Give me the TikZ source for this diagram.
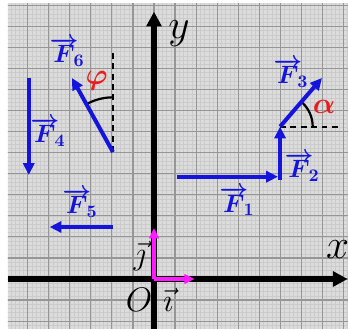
\RequirePackage{fix-cm}
\documentclass[tikz,border=0pt]{standalone}
\usetikzlibrary{arrows.meta}
\definecolor{paper}{HTML}{DCDCDC}
\definecolor{minorline}{HTML}{CBCBCB}
\definecolor{majorline}{HTML}{969696}
\definecolor{forceblue}{HTML}{1414DC}
\definecolor{anglered}{HTML}{E61E1E}
\definecolor{unitpink}{HTML}{FF1AFF}

\begin{document}
\begin{tikzpicture}[
    x=5mm, y=5mm,
    line join=round,
    force/.style={forceblue, line width=2.7pt, -{Triangle[length=8pt,width=7.5pt]}},
    axis/.style={black, line width=3.4pt, -{Triangle[length=10pt,width=10pt]}},
    unitvec/.style={unitpink, line width=2.4pt, -{Triangle[length=7pt,width=6.5pt]}},
    guide/.style={black, line width=1.3pt, dash pattern=on 4pt off 3pt},
    anglearc/.style={black, line width=1.5pt},
    flabel/.style={forceblue, inner sep=0pt, font=\fontsize{17}{19}\selectfont\boldmath},
    alabel/.style={anglered, inner sep=0pt, font=\fontsize{20}{22}\selectfont\boldmath},
    axlabel/.style={black, inner sep=0pt, font=\fontsize{28}{30}\selectfont}
]

    \useasboundingbox (-7.316,-2.375) rectangle (9.216,13.254);

    % Squared paper
    \begin{scope}
        \clip (-6.94,-2.33) rectangle (9.22,13.11);
        \fill[paper] (-7,-3) rectangle (10,14);
        \draw[minorline, line width=0.3pt, step=0.2] (-7,-3) grid (10,14);
        \draw[majorline, line width=0.8pt, step=1] (-7,-3) grid (10,14);
    \end{scope}

    % Axes
    \coordinate (O) at (0,0);
    \coordinate (xstart) at (-6.94,0);
    \coordinate (xend) at (9.2,0);
    \coordinate (ystart) at (0,-2.4);
    \coordinate (yend) at (0,12.7);
    \draw[axis] (xstart) -- (xend);
    \draw[axis] (ystart) -- (yend);
    \node[axlabel] (xlab) at (8.72,1.38) {$x$};
    \node[axlabel] (ylab) at (1.19,11.64) {$y$};
    \node[axlabel, font=\fontsize{23}{25}\selectfont] (olab) at (-0.71,-1.0) {$O$};

    % Unit vectors
    \coordinate (itip) at (1.93,0);
    \coordinate (jtip) at (0,2.42);
    \draw[unitvec] (O) -- (itip);
    \draw[unitvec] (O) -- (jtip);
    \node[axlabel, font=\fontsize{22}{24}\selectfont] (ilab) at (0.67,-1.0) {$\vec{\imath}$};
    \node[axlabel, font=\fontsize{22}{24}\selectfont] (jlab) at (-0.67,1.09) {$\vec{\jmath}$};

    % Forces F1, F2, F3
    \coordinate (F1s) at (1.09,4.86);
    \coordinate (F1e) at (5.89,4.86);
    \coordinate (F2s) at (5.99,4.7);
    \coordinate (F2e) at (5.99,7.24);
    \coordinate (F3e) at (7.98,9.55);
    \coordinate (A) at (8.9,7.24);
    \draw[guide] (F2e) -- (A);
    \draw[anglearc] (F2e) ++(0:1.55) arc[start angle=0, end angle=49, radius=1.55];
    \draw[force] (F1s) -- (F1e);
    \draw[force] (F2s) -- (F2e);
    \draw[force] (F2e) -- (F3e);
    \node[flabel] (F1lab) at (3.94,3.7) {$\overrightarrow{F}\!_1$};
    \node[flabel] (F2lab) at (7.03,5.32) {$\overrightarrow{F}\!_2$};
    \node[flabel] (F3lab) at (6.5,9.79) {$\overrightarrow{F}\!_3$};
    \node[alabel] (alpha) at (8.08,8.17) {$\alpha$};

    % Forces F4, F5, F6
    \coordinate (F4s) at (-5.95,9.55);
    \coordinate (F4e) at (-5.95,4.94);
    \coordinate (F5s) at (-1.96,2.47);
    \coordinate (F5e) at (-4.96,2.47);
    \coordinate (F6s) at (-1.95,6.03);
    \coordinate (F6e) at (-3.9,9.55);
    \coordinate (P) at (-1.95,10.78);
    \draw[guide] (F6s) -- (P);
    \draw[anglearc] (F6s) ++(90:2.6) arc[start angle=90, end angle=119, radius=2.6];
    \draw[force] (F4s) -- (F4e);
    \draw[force] (F5s) -- (F5e);
    \draw[force] (F6s) -- (F6e);
    \node[flabel] (F4lab) at (-5.04,6.98) {$\overrightarrow{F}\!_4$};
    \node[flabel] (F5lab) at (-3.52,3.61) {$\overrightarrow{F}\!_5$};
    \node[flabel] (F6lab) at (-4.13,10.78) {$\overrightarrow{F}\!_6$};
    \node[alabel] (phi) at (-2.72,9.4) {$\varphi$};

\end{tikzpicture}
\end{document}
